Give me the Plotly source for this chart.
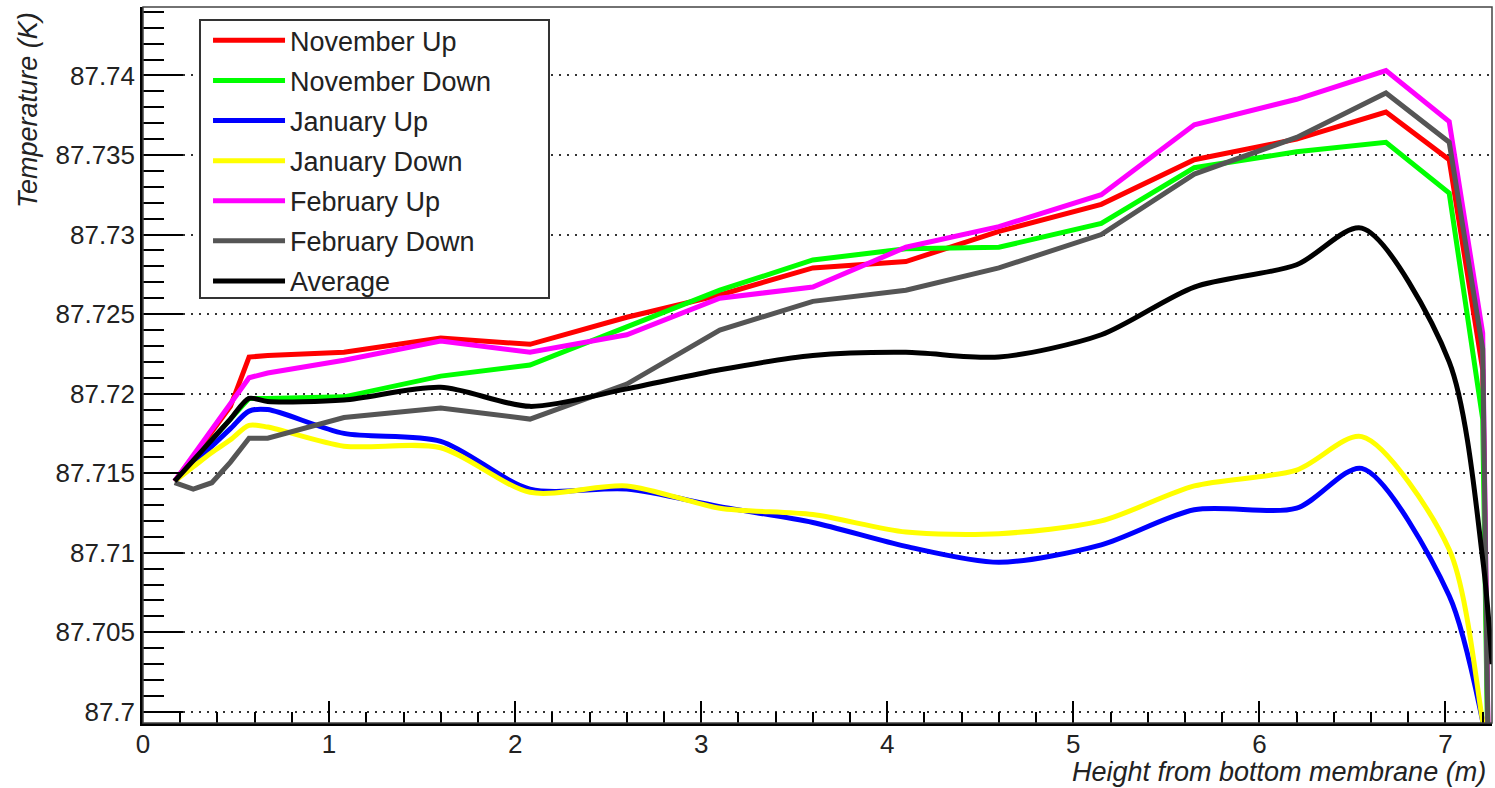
import plotly.graph_objects as go

# Heights (m) at which the profiles were sampled (straight-segment profiles)
height = [0.17, 0.27, 0.37, 0.47, 0.57, 0.67, 1.08, 1.6, 2.08, 2.6, 3.1, 3.6,
          4.1, 4.6, 5.15, 5.65, 6.2, 6.68, 7.02, 7.2, 7.25]
# Heights for the smoothed profiles (January and Average)
height_smooth = [0.17, 0.27, 0.37, 0.47, 0.57, 0.67, 1.08, 1.6, 2.08, 2.6, 3.1, 3.6,
                 4.1, 4.6, 5.15, 5.65, 6.2, 6.55, 7.02, 7.2, 7.25]

nov_up = [87.7145, 87.7160, 87.7176, 87.7192, 87.7223, 87.7224, 87.7226, 87.7235,
          87.7231, 87.7248, 87.7262, 87.7279, 87.7283, 87.7302, 87.7319, 87.7347,
          87.7360, 87.7377, 87.7347, 87.7215, 87.6800]
nov_down = [87.7145, 87.7158, 87.7171, 87.7184, 87.7197, 87.7197, 87.7198, 87.7211,
            87.7218, 87.7242, 87.7265, 87.7284, 87.7291, 87.7292, 87.7307, 87.7342,
            87.7352, 87.7358, 87.7326, 87.7184, 87.6800]
jan_up = [87.7145, 87.7156, 87.7167, 87.7178, 87.7189, 87.7190, 87.7175, 87.7170,
          87.7140, 87.7140, 87.7129, 87.7119, 87.7104, 87.7094, 87.7105, 87.7127,
          87.7128, 87.7153, 87.7073, 87.6994, 87.6960]
jan_down = [87.7145, 87.7154, 87.7163, 87.7171, 87.7180, 87.7179, 87.7167, 87.7166,
            87.7138, 87.7142, 87.7128, 87.7124, 87.7113, 87.7112, 87.7120, 87.7142,
            87.7152, 87.7173, 87.7102, 87.6994, 87.6960]
feb_up = [87.7145, 87.7161, 87.7177, 87.7194, 87.7210, 87.7213, 87.7221, 87.7233,
          87.7226, 87.7237, 87.7260, 87.7267, 87.7292, 87.7305, 87.7325, 87.7369,
          87.7385, 87.7403, 87.7371, 87.7238, 87.6800]
feb_down = [87.7144, 87.7140, 87.7144, 87.7157, 87.7172, 87.7172, 87.7185, 87.7191,
            87.7184, 87.7206, 87.7240, 87.7258, 87.7265, 87.7279, 87.7300, 87.7338,
            87.7361, 87.7389, 87.7358, 87.7228, 87.6800]
average = [87.7145, 87.7158, 87.7171, 87.7184, 87.7197, 87.7195, 87.7196, 87.7204,
           87.7192, 87.7203, 87.7215, 87.7224, 87.7226, 87.7223, 87.7237, 87.7267,
           87.7281, 87.7304, 87.7220, 87.7096, 87.7030]

series_names = ["November Up", "November Down", "January Up", "January Down",
                "February Up", "February Down", "Average"]
x_tick_vals = [0, 1, 2, 3, 4, 5, 6, 7]
x_tick_text = ["0", "1", "2", "3", "4", "5", "6", "7"]
y_tick_vals = [87.7, 87.705, 87.71, 87.715, 87.72, 87.725, 87.73, 87.735, 87.74]
y_tick_text = ["87.7", "87.705", "87.71", "87.715", "87.72", "87.725", "87.73",
               "87.735", "87.74"]

FONT = "Liberation Sans"
series = [nov_up, nov_down, jan_up, jan_down, feb_up, feb_down, average]
colors = ["#ff0000", "#00ff00", "#0000ff", "#ffff00", "#ff00ff", "#555555", "#000000"]
smooth = [False, False, True, True, False, False, True]

fig = go.Figure()
for i, (name, ys, col, sm) in enumerate(zip(series_names, series, colors, smooth)):
    fig.add_trace(go.Scatter(
        x=height_smooth if sm else height, y=ys, mode="lines", name=name,
        legendgroup=f"g{i}",
        line=dict(color=col, width=5, shape="spline" if sm else "linear",
                  smoothing=0.8 if sm else None),
    ))

fig.update_layout(
    width=1495, height=788,
    margin=dict(l=143, r=3, t=7, b=65),
    paper_bgcolor="white", plot_bgcolor="white",
    font=dict(family=FONT, color="#222", size=26),
    xaxis=dict(
        range=[0, 7.25], tickmode="array", tickvals=x_tick_vals, ticktext=x_tick_text,
        ticks="inside", ticklen=22, tickwidth=1.5, tickcolor="black",
        showline=True, linecolor="black", linewidth=2.5,
        showgrid=False, zeroline=False, ticklabelstandoff=-4,
        minor=dict(dtick=0.2, tick0=0, ticks="inside", ticklen=11, tickwidth=1.5,
                   tickcolor="black", showgrid=False),
        tickfont=dict(size=26, family=FONT, color="#222"),
    ),
    yaxis=dict(
        range=[87.6993, 87.7443], tickmode="array", tickvals=y_tick_vals, ticktext=y_tick_text,
        ticks="inside", ticklen=40, tickwidth=1.5, tickcolor="black",
        showline=True, linecolor="black", linewidth=2.5,
        showgrid=True, gridcolor="#333", gridwidth=1.5, griddash="2px,6px",
        zeroline=False,
        minor=dict(dtick=0.001, tick0=87.7, ticks="inside", ticklen=21, tickwidth=1.5,
                   tickcolor="black", showgrid=False),
        tickfont=dict(size=26, family=FONT, color="#222"),
    ),
    legend=dict(
        x=0.0482, y=0.987, xanchor="left", yanchor="top",
        bgcolor="rgba(0,0,0,0)", borderwidth=0,
        font=dict(size=27, family=FONT, color="#222"),
        tracegroupgap=2, itemwidth=72,
    ),
    shapes=[
        dict(type="rect", xref="paper", yref="paper", x0=0, x1=1, y0=0, y1=1,
             line=dict(color="#444", width=1.5), layer="above"),
        dict(type="rect", xref="paper", yref="paper", x0=0.04225, x1=0.30096,
             y0=0.59358, y1=0.98184, line=dict(color="#333", width=2),
             fillcolor="white", layer="above"),
    ],
    annotations=[
        dict(text="<i>Temperature (K)</i>", xref="paper", yref="paper",
             x=-0.0853, y=0.9958, xanchor="center", yanchor="top", textangle=-90,
             showarrow=False, font=dict(size=27, family=FONT, color="#222")),
        dict(text="<i>Height from bottom membrane (m)</i>", xref="paper", yref="paper",
             x=0.99703, y=-0.069, xanchor="right", yanchor="middle",
             showarrow=False, font=dict(size=27, family=FONT, color="#222")),
    ],
)

fig.write_html("out.html")
